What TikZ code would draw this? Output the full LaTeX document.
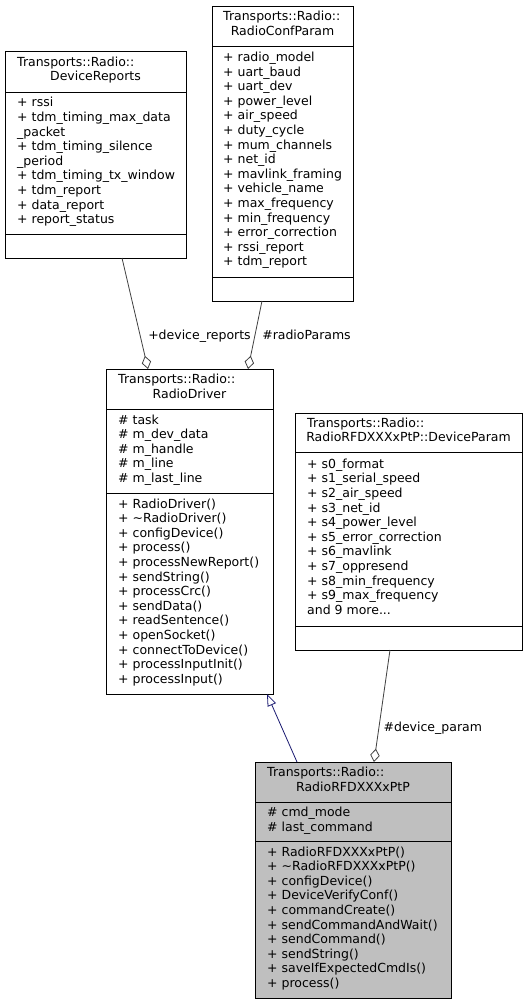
\documentclass[tikz,border=0pt]{standalone}
\usepackage{fontspec}
\setmainfont{DejaVu Sans}
\usetikzlibrary{arrows.meta}
\definecolor{edgegray}{HTML}{404040}
\definecolor{inhblue}{HTML}{191970}
\definecolor{curfill}{HTML}{BFBFBF}
\newcommand\memfont{\fontsize{12.5pt}{14.6pt}\selectfont}
\newcommand\fs{\rule{0pt}{10pt}}
\begin{document}
\begin{tikzpicture}[x=1pt,y=-1pt,
 cls/.style={draw=black, line width=1pt, fill=white, anchor=north west, inner sep=0pt, outer sep=0pt},
 cur/.style={cls, fill=curfill},
 mem/.style={anchor=north west, inner sep=0pt, align=left, font=\memfont},
 hdone/.style={anchor=base west, inner sep=0pt, font=\memfont},
 hdtwo/.style={anchor=base, inner sep=0pt, font=\memfont},
 sepline/.style={draw=black, line width=1pt},
 aggr/.style={draw=edgegray, line width=0.8pt, -{Diamond[open, length=13.5pt, width=9.5pt]}},
 inh/.style={draw=inhblue, line width=0.8pt, -{Triangle[open, length=12pt, width=9pt]}},
 lbl/.style={anchor=base, inner sep=0pt, font=\memfont}]
\useasboundingbox (0,0) rectangle (528,1005);

% ---------- DeviceReports ----------
\node[cls, minimum width=181pt, minimum height=207pt] (DR) at (5,51) {};
\draw[sepline] ([yshift=-41pt]DR.north west) -- ([yshift=-41pt]DR.north east);
\draw[sepline] ([yshift=-183pt]DR.north west) -- ([yshift=-183pt]DR.north east);
\node[hdone] (DRt) at (17,66.2) {Transports::Radio::};
\node[hdtwo] (DRn) at (95.5,80.8) {DeviceReports};
\node[mem] (DRa) at (17,96.6) {\fs+ rssi\\+ tdm\_timing\_max\_data\\\_packet\\+ tdm\_timing\_silence\\\_period\\+ tdm\_timing\_tx\_window\\+ tdm\_report\\+ data\_report\\+ report\_status};

% ---------- RadioConfParam ----------
\node[cls, minimum width=141pt, minimum height=295pt] (RCP) at (212,6) {};
\draw[sepline] ([yshift=-40pt]RCP.north west) -- ([yshift=-40pt]RCP.north east);
\draw[sepline] ([yshift=-271pt]RCP.north west) -- ([yshift=-271pt]RCP.north east);
\node[hdone] (RCPt) at (223,20.7) {Transports::Radio::};
\node[hdtwo] (RCPn) at (282.5,35.3) {RadioConfParam};
\node[mem] (RCPa) at (223,51.3) {\fs+ radio\_model\\+ uart\_baud\\+ uart\_dev\\+ power\_level\\+ air\_speed\\+ duty\_cycle\\+ mum\_channels\\+ net\_id\\+ mavlink\_framing\\+ vehicle\_name\\+ max\_frequency\\+ min\_frequency\\+ error\_correction\\+ rssi\_report\\+ tdm\_report};

% ---------- RadioDriver ----------
\node[cls, minimum width=167pt, minimum height=325pt] (RD) at (106,369) {};
\draw[sepline] ([yshift=-40pt]RD.north west) -- ([yshift=-40pt]RD.north east);
\draw[sepline] ([yshift=-124pt]RD.north west) -- ([yshift=-124pt]RD.north east);
\node[hdone] (RDt) at (118,383.7) {Transports::Radio::};
\node[hdtwo] (RDn) at (189.5,398.3) {RadioDriver};
\node[mem] (RDa) at (118,413.8) {\fs\# task\\\# m\_dev\_data\\\# m\_handle\\\# m\_line\\\# m\_last\_line};
\node[mem] (RDm) at (118,497.9) {\fs+ RadioDriver()\\+ \textasciitilde RadioDriver()\\+ configDevice()\\+ process()\\+ processNewReport()\\+ sendString()\\+ processCrc()\\+ sendData()\\+ readSentence()\\+ openSocket()\\+ connectToDevice()\\+ processInputInit()\\+ processInput()};

% ---------- DeviceParam ----------
\node[cls, minimum width=227pt, minimum height=237pt] (DP) at (295,413) {};
\draw[sepline] ([yshift=-39pt]DP.north west) -- ([yshift=-39pt]DP.north east);
\draw[sepline] ([yshift=-213pt]DP.north west) -- ([yshift=-213pt]DP.north east);
\node[hdone] (DPt) at (307,427.2) {Transports::Radio::};
\node[hdtwo] (DPn) at (408.5,441.8) {RadioRFDXXXxPtP::DeviceParam};
\node[mem] (DPa) at (307,458) {\fs+ s0\_format\\+ s1\_serial\_speed\\+ s2\_air\_speed\\+ s3\_net\_id\\+ s4\_power\_level\\+ s5\_error\_correction\\+ s6\_mavlink\\+ s7\_oppresend\\+ s8\_min\_frequency\\+ s9\_max\_frequency\\and 9 more...};

% ---------- RadioRFDXXXxPtP ----------
\node[cur, minimum width=196pt, minimum height=236pt] (RR) at (255,762) {};
\draw[sepline] ([yshift=-40pt]RR.north west) -- ([yshift=-40pt]RR.north east);
\draw[sepline] ([yshift=-79pt]RR.north west) -- ([yshift=-79pt]RR.north east);
\node[hdone] (RRt) at (267,776.7) {Transports::Radio::};
\node[hdtwo] (RRn) at (353,791.3) {RadioRFDXXXxPtP};
\node[mem] (RRa) at (267,806.2) {\fs\# cmd\_mode\\\# last\_command};
\node[mem] (RRm) at (267,845.8) {\fs+ RadioRFDXXXxPtP()\\+ \textasciitilde RadioRFDXXXxPtP()\\+ configDevice()\\+ DeviceVerifyConf()\\+ commandCreate()\\+ sendCommandAndWait()\\+ sendCommand()\\+ sendString()\\+ saveIfExpectedCmdIs()\\+ process()};

% ---------- connectors ----------
\draw[aggr] ([xshift=26.5pt]DR.south) -- ([xshift=-41.5pt]RD.north);
\draw[aggr] ([xshift=-20.5pt]RCP.south) -- ([xshift=58.5pt]RD.north);
\draw[aggr] ([xshift=-18.5pt]DP.south) -- ([xshift=21pt]RR.north);
\draw[inh] ([xshift=-56pt]RR.north) -- ([xshift=77.5pt]RD.south);

\node[lbl] (L1) at (199.5,339) {+device\_reports};
\node[lbl] (L2) at (306.5,339) {\#radioParams};
\node[lbl] (L3) at (432.8,731) {\#device\_param};
\end{tikzpicture}
\end{document}
